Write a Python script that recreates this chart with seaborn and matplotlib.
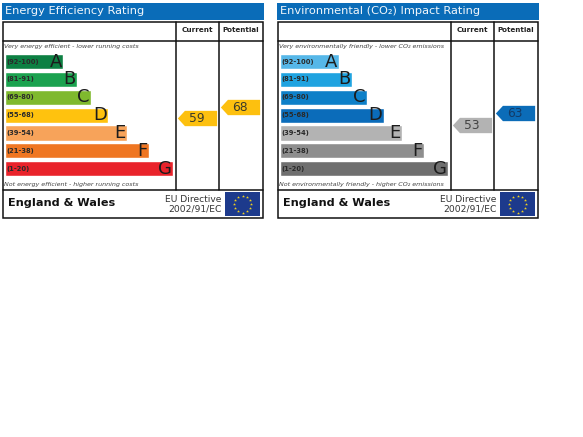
import numpy as np
import matplotlib
matplotlib.use("Agg")
import matplotlib.pyplot as plt
from matplotlib.path import Path
from matplotlib.patches import Rectangle
import seaborn as sns

W, H = 583, 437

bands = ["A", "B", "C", "D", "E", "F", "G"]
ranges_energy = ["(92-100)", "(81-91)", "(69-80)", "(55-68)", "(39-54)", "(21-38)", "(1-20)"]
ranges_co2 = ["(92-100)", "(81-91)", "(69-80)", "(55-68)", "(39-54)", "(21-38)", "(1-20)"]
bar_len = [58.5, 72, 86.5, 103.5, 122.5, 144, 168]

colors_energy = ["#0d8043", "#1ba24f", "#7fb92e", "#ffc20e", "#f7a35a", "#ef7622", "#e9232b"]
colors_co2 = ["#56b7e8", "#1fa3e0", "#0e80c8", "#0b6cba", "#b3b3b3", "#8e8e8e", "#6f6f6f"]

energy_current, energy_potential = 59, 68
co2_current, co2_potential = 53, 63

sns.set_theme(style="white")
plt.rcParams["font.family"] = ["DejaVu Sans"]

fig = plt.figure(figsize=(W / 100, H / 100), dpi=100, facecolor="white")

# background axes in pixel units, for the frames and labels
bg = fig.add_axes([0, 0, 1, 1])
bg.set_xlim(0, W)
bg.set_ylim(H, 0)
bg.axis("off")


def px_axes(x0, y0, x1, y1):
    ax = fig.add_axes([x0 / W, 1 - y1 / H, (x1 - x0) / W, (y1 - y0) / H])
    ax.patch.set_alpha(0)
    ax.axis("off")
    return ax


# arrow pointing left, scatter rescales it to the size given by s
arrow = Path([(-1, 0), (-0.64, 0.39), (1, 0.39), (1, -0.39), (-0.64, -0.39), (-1, 0)], closed=True)


def draw_arrow(x0, x1, value, color, text_color):
    # rating scale of the column: -1 at the bottom row line, 123 at the header line
    ax = px_axes(x0, 41, x1, 190)
    sns.scatterplot(x=[0], y=[value], marker=arrow, s=800, color=color, linewidth=0, ax=ax, legend=False)
    ax.set_xlim(-1, 1)
    ax.set_ylim(-1, 123.2)
    ax.axis("off")
    ax.text(0, value, str(value), ha="center", va="center", fontsize=8.8, color=text_color)


def panel(ox, title, top_note, bottom_note, ranges, colors, current, potential, cur_col, pot_col, cur_txt, pot_txt):
    right = ox + 259.5
    col1, col2 = ox + 172.5, ox + 215.5
    bg.add_patch(Rectangle((ox - 1, 3), 261.5, 16.5, color="#0a6cb8", lw=0))
    bg.text(ox + 2, 11.5, title, color="#f2f7fb", fontsize=8.2, va="center", ha="left")
    bg.add_patch(Rectangle((ox, 22), 259.5, 195.5, fill=False, ec="#111111", lw=1.1))
    bg.plot([ox, right], [41, 41], color="#111111", lw=1.1)
    bg.plot([ox, right], [190, 190], color="#111111", lw=1.1)
    bg.plot([col1, col1], [22, 190], color="#111111", lw=1.1)
    bg.plot([col2, col2], [22, 190], color="#111111", lw=1.1)
    bg.text((col1 + col2) / 2, 30.5, "Current", fontsize=5.2, weight="bold", ha="center", va="center", color="#222222")
    bg.text((col2 + right) / 2, 30.5, "Potential", fontsize=5.1, weight="bold", ha="center", va="center", color="#222222")
    bg.text(ox + 1, 46.5, top_note, fontsize=4.6, style="italic", ha="left", va="center", color="#444444")
    bg.text(ox + 1, 184.5, bottom_note, fontsize=4.6, style="italic", ha="left", va="center", color="#444444")

    ax = px_axes(ox + 2, 52.6, ox + 172, 177.7)
    sns.barplot(x=bar_len, y=bands, hue=bands, palette=colors, legend=False, width=0.85, orient="h",
                saturation=1, ax=ax)
    ax.set_xlim(0, 170)
    ax.set_ylim(6.5, -0.5)
    ax.axis("off")
    for i, (length, band, rng) in enumerate(zip(bar_len, bands, ranges)):
        ax.text(length - 1.5, i, band, fontsize=13, ha="right", va="center", color="#1c1c1c")
        ax.text(1.5, i, rng, fontsize=4.9, weight="bold", ha="left", va="center", color="#2a2a2a")

    draw_arrow(col1 + 1.5, col2 - 2, current, cur_col, cur_txt)
    draw_arrow(col2 + 1.5, right - 2, potential, pot_col, pot_txt)

    bg.text(ox + 5, 203.5, "England & Wales", fontsize=8.1, weight="bold", ha="left", va="center", color="#111111")
    bg.text(ox + 218.5, 199, "EU Directive", fontsize=6.6, ha="right", va="center", color="#333333")
    bg.text(ox + 218.5, 209.5, "2002/91/EC", fontsize=6.6, ha="right", va="center", color="#333333")

    # EU flag
    bg.add_patch(Rectangle((ox + 222, 192), 35, 24, color="#1d3a8c", lw=0))
    ang = np.arange(12) * np.pi / 6
    bg.scatter(ox + 239.5 + 8.5 * np.cos(ang), 204 + 8.5 * np.sin(ang), marker="*", s=5, color="#f2d21f", lw=0)


panel(3, "Energy Efficiency Rating",
      "Very energy efficient - lower running costs",
      "Not energy efficient - higher running costs",
      ranges_energy, colors_energy, energy_current, energy_potential, "#fdc00f", "#fdc00f", "#3a3a2a", "#3a3a2a")
panel(278, "Environmental (CO\u2082) Impact Rating",
      "Very environmentally friendly - lower CO\u2082 emissions",
      "Not environmentally friendly - higher CO\u2082 emissions",
      ranges_co2, colors_co2, co2_current, co2_potential, "#b3b3b3", "#0b6cb8", "#444444", "#123a66")

fig.savefig("out.png", dpi=100)
